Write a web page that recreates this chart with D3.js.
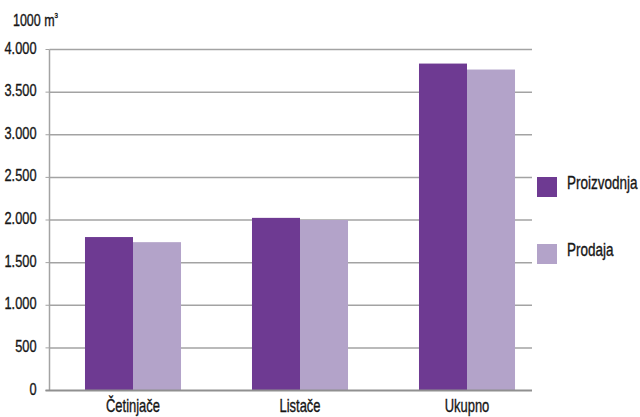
<!DOCTYPE html>
<html>
<head>
<meta charset="utf-8">
<script src="https://cdn.jsdelivr.net/npm/d3@7"></script>
<style>
  html, body { margin: 0; padding: 0; background: #fff; }
  svg { display: block; }
  text { font-family: "Liberation Sans", Arial, sans-serif; fill: #161616; stroke: #161616; stroke-width: 0.35; }
</style>
</head>
<body>
<svg id="chart" width="640" height="417"></svg>
<script>
const categories = ["Četinjače", "Listače", "Ukupno"];
const seriesNames = ["Proizvodnja", "Prodaja"];
const proizvodnja = [1800, 2025, 3835];
const prodaja = [1740, 2000, 3765];
const yTicks = [0, 500, 1000, 1500, 2000, 2500, 3000, 3500, 4000];
const unitLabel = "1000 m";
const colors = ["#6e3a92", "#b3a3c9"];

(function () {
const svg = d3.select("#chart");
const pLeft = 49.5, pBottom = 390.5, pTop = 49.5, gridRight = 532;

const x = d3.scaleBand().domain(categories).range([pLeft, 550.5]).paddingInner(0.425).paddingOuter(0.2125);
const xs = d3.scaleBand().domain(seriesNames).range([0, x.bandwidth()]);
const y = d3.scaleLinear().domain([0, 4000]).range([pBottom, pTop]);

const loc = d3.formatLocale({ decimal: ",", thousands: ".", grouping: [3], currency: ["", ""] });
const fmt = loc.format(",d");

// gridlines
svg.append("g").selectAll("line").data(yTicks.filter(d => d > 0)).join("line")
  .attr("x1", pLeft).attr("x2", gridRight)
  .attr("y1", d => y(d)).attr("y2", d => y(d))
  .attr("stroke", "#a3a3a3").attr("stroke-width", 1.5);

// y tick labels (condensed)
svg.append("g").selectAll("text").data(yTicks).join("text")
  .attr("transform", d => `translate(${pLeft - 13},${y(d) + 4}) scale(0.8,1)`)
  .attr("text-anchor", "end").attr("font-size", 16)
  .text(d => fmt(d));

// small tick marks on left
svg.append("g").selectAll("line").data(yTicks).join("line")
  .attr("x1", pLeft - 4).attr("x2", pLeft)
  .attr("y1", d => y(d)).attr("y2", d => y(d))
  .attr("stroke", "#a3a3a3").attr("stroke-width", 1);

// bars
const data = categories.map((c, i) => ({ cat: c, vals: [proizvodnja[i], prodaja[i]] }));
const groups = svg.append("g").selectAll("g").data(data).join("g")
  .attr("transform", d => `translate(${x(d.cat)},0)`);
groups.selectAll("rect").data(d => d.vals.map((v, j) => ({ v, s: seriesNames[j], j }))).join("rect")
  .attr("x", d => xs(d.s)).attr("width", xs.bandwidth())
  .attr("y", d => y(d.v)).attr("height", d => y(0) - y(d.v))
  .attr("fill", d => colors[d.j]);

// axes lines
svg.append("line").attr("x1", pLeft).attr("x2", pLeft).attr("y1", pTop).attr("y2", pBottom)
  .attr("stroke", "#a3a3a3").attr("stroke-width", 1.5);
svg.append("line").attr("x1", pLeft - 4).attr("x2", gridRight).attr("y1", pBottom).attr("y2", pBottom)
  .attr("stroke", "#909090").attr("stroke-width", 2);

// x labels
svg.append("g").selectAll("text").data(categories).join("text")
  .attr("transform", d => `translate(${x(d) + x.bandwidth() / 2},412) scale(0.72,1)`)
  .attr("text-anchor", "middle").attr("font-size", 18)
  .text(d => d);

// unit label
const ut = svg.append("text").attr("transform", "translate(13,26) scale(0.78,1)").attr("font-size", 16);
ut.append("tspan").text(unitLabel);
ut.append("tspan").attr("font-size", 8).attr("dy", -8).text("3");

// legend
const lg = svg.append("g").selectAll("g").data(seriesNames).join("g")
  .attr("transform", (d, i) => `translate(537, ${177 + i * 67})`);
lg.append("rect").attr("width", 20).attr("height", 20).attr("fill", (d, i) => colors[i]);
lg.append("text").attr("transform", "translate(30,12) scale(0.75,1)").attr("font-size", 18).text(d => d);
})();
</script>
</body>
</html>
